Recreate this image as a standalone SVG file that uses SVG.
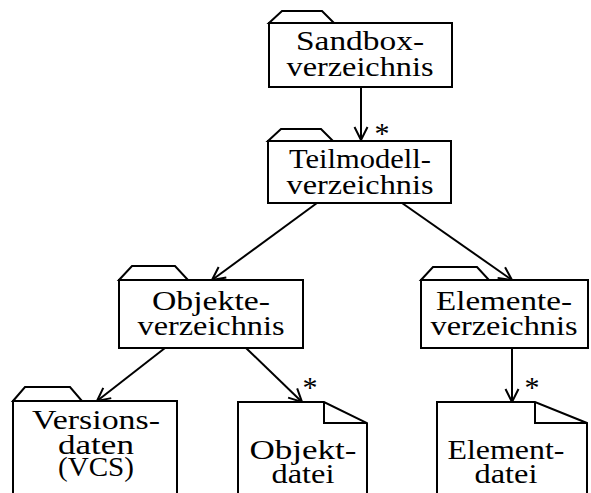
<svg xmlns="http://www.w3.org/2000/svg" width="591" height="493" viewBox="0 0 591 493">
  <style>
    .shape { fill: #fff; stroke: #000; stroke-width: 2; stroke-linejoin: miter; }
    .edge { fill: none; stroke: #000; stroke-width: 2; }
    text { font-family: "Liberation Serif", "DejaVu Serif", serif; fill: #000; }
    .lbl { font-size: 28px; text-anchor: middle; }
    .mult { font-size: 30px; text-anchor: middle; }
  </style>
  <defs>
    <!-- open V arrowhead -->
    <marker id="open" markerWidth="16" markerHeight="16" refX="14" refY="8" orient="auto" markerUnits="userSpaceOnUse">
      <path d="M1,1.5 L14,8 L1,14.5" fill="none" stroke="#000" stroke-width="2"/>
    </marker>
  </defs>

  <!-- connectors and multiplicities -->
  <g id="connectors">
    <line class="edge" x1="361" y1="87" x2="361" y2="140" marker-end="url(#open)"/>
    <line class="edge" x1="317" y1="203" x2="212" y2="280" marker-end="url(#open)"/>
    <line class="edge" x1="402" y1="203" x2="512" y2="280" marker-end="url(#open)"/>
    <line class="edge" x1="165" y1="348" x2="97" y2="401" marker-end="url(#open)"/>
    <line class="edge" x1="246" y1="348" x2="302" y2="402" marker-end="url(#open)"/>
    <line class="edge" x1="512" y1="348" x2="512" y2="402" marker-end="url(#open)"/>
    <text class="mult" x="382" y="143">*</text>
    <text class="mult" x="310" y="397">*</text>
    <text class="mult" x="532" y="397">*</text>
  </g>

  <!-- folder: Sandboxverzeichnis -->
  <g id="sandbox">
    <path class="shape" d="M269,23 L282,11 L322,11 L334,23 Z"/>
    <rect class="shape" x="269" y="23" width="183" height="64"/>
    <text class="lbl" x="360" y="50" textLength="128" lengthAdjust="spacingAndGlyphs">Sandbox-</text>
    <text class="lbl" x="360" y="76" textLength="147" lengthAdjust="spacingAndGlyphs">verzeichnis</text>
  </g>

  <!-- folder: Teilmodellverzeichnis -->
  <g id="teilmodell">
    <path class="shape" d="M268,141 L281,129 L321,129 L333,141 Z"/>
    <rect class="shape" x="268" y="141" width="183" height="62"/>
    <text class="lbl" x="360" y="168" textLength="142" lengthAdjust="spacingAndGlyphs">Teilmodell-</text>
    <text class="lbl" x="360" y="194" textLength="147" lengthAdjust="spacingAndGlyphs">verzeichnis</text>
  </g>

  <!-- folder: Objekteverzeichnis -->
  <g id="objekte">
    <path class="shape" d="M119,280 L132,266 L175,266 L188,280 Z"/>
    <rect class="shape" x="119" y="280" width="184" height="68"/>
    <text class="lbl" x="211" y="310" textLength="118" lengthAdjust="spacingAndGlyphs">Objekte-</text>
    <text class="lbl" x="211" y="335" textLength="147" lengthAdjust="spacingAndGlyphs">verzeichnis</text>
  </g>

  <!-- folder: Elementeverzeichnis -->
  <g id="elemente">
    <path class="shape" d="M421,280 L433,267 L477,267 L489,280 Z"/>
    <rect class="shape" x="421" y="280" width="167" height="68"/>
    <text class="lbl" x="504" y="310" textLength="136" lengthAdjust="spacingAndGlyphs">Elemente-</text>
    <text class="lbl" x="504" y="335" textLength="147" lengthAdjust="spacingAndGlyphs">verzeichnis</text>
  </g>

  <!-- folder: Versionsdaten (VCS) -->
  <g id="versionsdaten">
    <path class="shape" d="M13,401 L25,387 L70,387 L82,401 Z"/>
    <rect class="shape" x="13" y="401" width="164" height="110"/>
    <text class="lbl" x="96" y="429" textLength="128" lengthAdjust="spacingAndGlyphs">Versions-</text>
    <text class="lbl" x="96" y="454" textLength="76" lengthAdjust="spacingAndGlyphs">daten</text>
    <text class="lbl" x="96" y="476" textLength="76" lengthAdjust="spacingAndGlyphs">(VCS)</text>
  </g>

  <!-- file: Objektdatei -->
  <g id="objektdatei">
    <path class="shape" d="M238,511 L238,402 L324,402 L367,423 L367,511"/>
    <path class="edge" d="M324,402 L324,423 L367,423"/>
    <text class="lbl" x="303" y="459" textLength="107" lengthAdjust="spacingAndGlyphs">Objekt-</text>
    <text class="lbl" x="303" y="483" textLength="63" lengthAdjust="spacingAndGlyphs">datei</text>
  </g>

  <!-- file: Elementdatei -->
  <g id="elementdatei">
    <path class="shape" d="M437,511 L437,402 L535,402 L587,423 L587,511"/>
    <path class="edge" d="M535,402 L535,423 L587,423"/>
    <text class="lbl" x="506" y="459" textLength="117" lengthAdjust="spacingAndGlyphs">Element-</text>
    <text class="lbl" x="506" y="483" textLength="63" lengthAdjust="spacingAndGlyphs">datei</text>
  </g>
</svg>
